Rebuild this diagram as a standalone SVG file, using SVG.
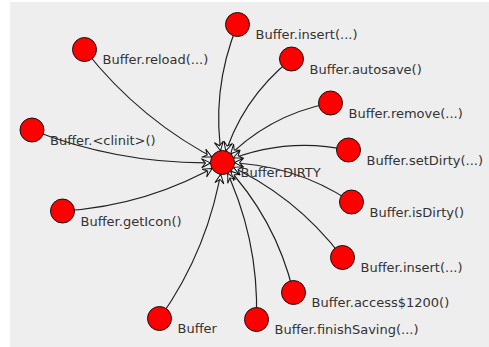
<svg xmlns="http://www.w3.org/2000/svg" xmlns:xlink="http://www.w3.org/1999/xlink" width="489" height="347" viewBox="0 0 489 347">
<style>
.edge{fill:none;stroke:#222;stroke-width:1.2}
.node{fill:#ff0000;stroke:#111;stroke-width:1}
.lbl{font-family:"DejaVu Sans",sans-serif;font-size:13px;fill:#333}
</style>
<defs>
<polygon id="arrow" points="0,0 -9,-4.5 -5,0 -9,4.5" fill="#ffffff" stroke="#111" stroke-width="1" stroke-linejoin="miter"/>
</defs>
<rect x="0" y="0" width="489" height="347" fill="#ffffff"/>
<rect x="10" y="2" width="479" height="345" fill="#eeeeee"/>
<g id="connectors">
<path class="edge" d="M237.5,24.5 Q210.12,91.34 222.5,162.5"/>
<path class="edge" d="M84.5,49.5 Q140.83,121.47 222.5,162.5"/>
<path class="edge" d="M291.5,59 Q240.36,99.66 222.5,162.5"/>
<path class="edge" d="M330.5,103 Q266.85,115.23 222.5,162.5"/>
<path class="edge" d="M32,130 Q123.89,165.97 222.5,162.5"/>
<path class="edge" d="M348.5,150 Q283.53,136.35 222.5,162.5"/>
<path class="edge" d="M351.5,202 Q292.86,163.13 222.5,162.5"/>
<path class="edge" d="M62.5,211 Q148.3,205.89 222.5,162.5"/>
<path class="edge" d="M342.5,257.5 Q294.91,194.32 222.5,162.5"/>
<path class="edge" d="M293.5,292.5 Q275.55,217.91 222.5,162.5"/>
<path class="edge" d="M159.5,318.5 Q209.54,247.99 222.5,162.5"/>
<path class="edge" d="M256.5,319.5 Q259.05,236.77 222.5,162.5"/>
<use xlink:href="#arrow" href="#arrow" transform="translate(220.44,150.68) rotate(80.13)"/>
<use xlink:href="#arrow" href="#arrow" transform="translate(211.78,157.11) rotate(26.67)"/>
<use xlink:href="#arrow" href="#arrow" transform="translate(225.78,150.96) rotate(105.87)"/>
<use xlink:href="#arrow" href="#arrow" transform="translate(230.71,153.75) rotate(133.17)"/>
<use xlink:href="#arrow" href="#arrow" transform="translate(210.51,162.92) rotate(-2.02)"/>
<use xlink:href="#arrow" href="#arrow" transform="translate(233.53,157.77) rotate(156.81)"/>
<use xlink:href="#arrow" href="#arrow" transform="translate(234.5,162.61) rotate(-179.49)"/>
<use xlink:href="#arrow" href="#arrow" transform="translate(212.14,168.56) rotate(-30.31)"/>
<use xlink:href="#arrow" href="#arrow" transform="translate(233.49,167.33) rotate(-156.28)"/>
<use xlink:href="#arrow" href="#arrow" transform="translate(230.8,171.17) rotate(-133.76)"/>
<use xlink:href="#arrow" href="#arrow" transform="translate(220.7,174.36) rotate(-81.38)"/>
<use xlink:href="#arrow" href="#arrow" transform="translate(227.8,173.27) rotate(-116.2)"/>
</g>
<g id="n-dirty"><circle class="node" cx="222.5" cy="162.5" r="12"/><text class="lbl" x="240.5" y="177">Buffer.DIRTY</text></g>
<g id="n-insert1"><circle class="node" cx="237.5" cy="24.5" r="12"/><text class="lbl" x="255.5" y="39">Buffer.insert(...)</text></g>
<g id="n-reload"><circle class="node" cx="84.5" cy="49.5" r="12"/><text class="lbl" x="102.5" y="64">Buffer.reload(...)</text></g>
<g id="n-autosave"><circle class="node" cx="291.5" cy="59" r="12"/><text class="lbl" x="309.5" y="73.5">Buffer.autosave()</text></g>
<g id="n-remove"><circle class="node" cx="330.5" cy="103" r="12"/><text class="lbl" x="348.5" y="117.5">Buffer.remove(...)</text></g>
<g id="n-clinit"><circle class="node" cx="32" cy="130" r="12"/><text class="lbl" x="50" y="144.5">Buffer.&lt;clinit&gt;()</text></g>
<g id="n-setdirty"><circle class="node" cx="348.5" cy="150" r="12"/><text class="lbl" x="366.5" y="164.5">Buffer.setDirty(...)</text></g>
<g id="n-isdirty"><circle class="node" cx="351.5" cy="202" r="12"/><text class="lbl" x="369.5" y="216.5">Buffer.isDirty()</text></g>
<g id="n-geticon"><circle class="node" cx="62.5" cy="211" r="12"/><text class="lbl" x="80.5" y="225.5">Buffer.getIcon()</text></g>
<g id="n-insert2"><circle class="node" cx="342.5" cy="257.5" r="12"/><text class="lbl" x="360.5" y="272">Buffer.insert(...)</text></g>
<g id="n-access"><circle class="node" cx="293.5" cy="292.5" r="12"/><text class="lbl" x="311.5" y="307">Buffer.access$1200()</text></g>
<g id="n-buffer"><circle class="node" cx="159.5" cy="318.5" r="12"/><text class="lbl" x="177.5" y="333">Buffer</text></g>
<g id="n-finish"><circle class="node" cx="256.5" cy="319.5" r="12"/><text class="lbl" x="274.5" y="334">Buffer.finishSaving(...)</text></g>
</svg>
